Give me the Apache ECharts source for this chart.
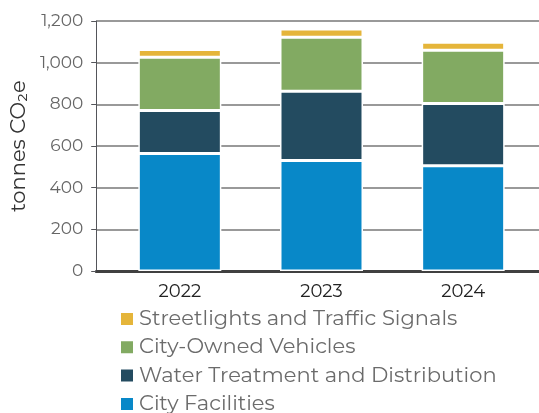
<!DOCTYPE html>
<html>
<head>
<meta charset="utf-8">
<script src="https://cdn.jsdelivr.net/npm/echarts@6/dist/echarts.min.js"></script>
<style>
  html, body { margin: 0; padding: 0; background: #fff; }
  #chart { width: 539px; height: 413px; }
</style>
</head>
<body>
<div id="chart"></div>
<script>
const years = ['2022', '2023', '2024']
const yTicks = [0, 200, 400, 600, 800, 1000, 1200]
const cityFacilities = [564, 530, 505]
const waterTreatment = [206, 333, 299]
const cityVehicles = [256, 259, 256]
const streetlights = [37, 40, 38]

const names = ['City Facilities', 'Water Treatment and Distribution', 'City-Owned Vehicles', 'Streetlights and Traffic Signals']
const colors = ['#0888C8', '#234B60', '#82AA62', '#E5B53A']
const values = [cityFacilities, waterTreatment, cityVehicles, streetlights]

const chart = echarts.init(document.getElementById('chart'))
const font = 'Montserrat, "Noto Sans", Lato, sans-serif'
const yMin = yTicks[0]
const yMax = yTicks[yTicks.length - 1]

const option = {
  animation: false,
  // grid 0: 网格线和y轴, grid 1: 柱子
  grid: [
    { left: 96, right: 0, top: 21, bottom: 142 },
    { left: 109, right: 5, top: 21, bottom: 142 }
  ],
  legend: {
    orient: 'vertical',
    left: 119,
    top: 308,
    height: 140,
    padding: 0,
    itemWidth: 14,
    itemHeight: 14,
    itemGap: 6.3,
    icon: 'rect',
    data: names.slice().reverse(),
    textStyle: { fontFamily: font, fontSize: 21, lineHeight: 22, color: '#6b6b6b' }
  },
  xAxis: [
    {
      gridIndex: 0,
      type: 'value',
      min: 0,
      max: 1,
      axisTick: { show: false },
      axisLabel: { show: false },
      splitLine: { show: false },
      axisLine: { show: true, onZero: false, lineStyle: { color: '#404040', width: 3 } }
    },
    {
      gridIndex: 1,
      type: 'category',
      data: years,
      axisTick: { show: false },
      axisLine: { show: false },
      axisLabel: { fontFamily: font, fontSize: 18, color: '#222', margin: 12 }
    }
  ],
  yAxis: [
    {
      gridIndex: 0,
      type: 'value',
      min: yMin,
      max: yMax,
      interval: 200,
      name: 'tonnes CO₂e',
      nameLocation: 'middle',
      nameGap: 64,
      nameTextStyle: { fontFamily: font, fontSize: 21, color: '#333' },
      axisLabel: {
        fontFamily: font, fontSize: 17, color: '#666', margin: 13,
        formatter: v => v.toLocaleString('en-US')
      },
      splitLine: { lineStyle: { color: '#777', width: 1.5 } }
    },
    {
      gridIndex: 1,
      type: 'value',
      min: yMin,
      max: yMax,
      interval: 200,
      show: false,
      splitLine: { show: false }
    }
  ],
  series: []
}

for (let i = 0; i < names.length; i++) {
  option.series.push({
    name: names[i],
    type: 'bar',
    stack: 'total',
    xAxisIndex: 1,
    yAxisIndex: 1,
    barWidth: 83,
    itemStyle: { color: colors[i], borderColor: '#fff', borderWidth: 1.5 },
    data: values[i]
  })
}

chart.setOption(option)
</script>
</body>
</html>
